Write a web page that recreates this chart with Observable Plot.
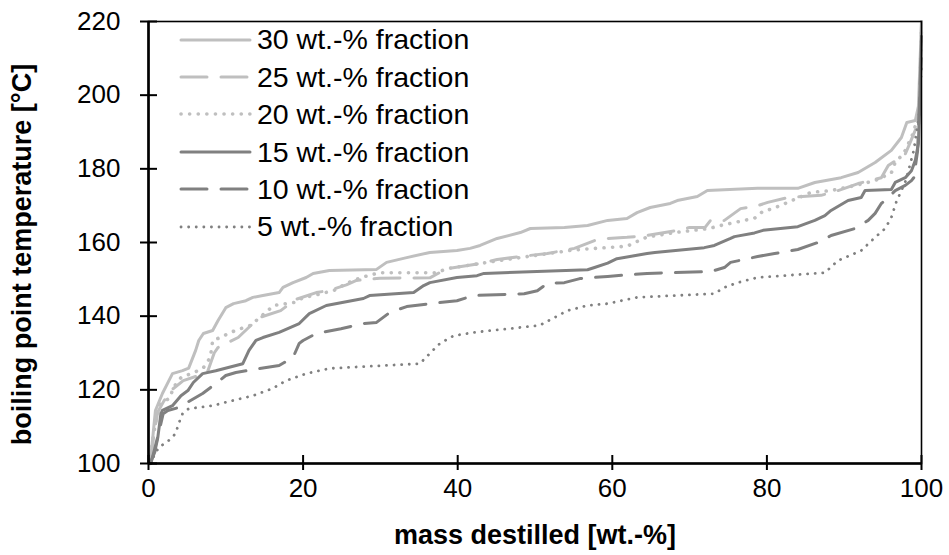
<!DOCTYPE html>
<html><head><meta charset="utf-8">
<script src="https://cdn.jsdelivr.net/npm/d3@7"></script>
<script src="https://cdn.jsdelivr.net/npm/@observablehq/plot@0.6"></script>
<style>
html,body{margin:0;padding:0;background:#fff;}
#wrap{position:relative;width:949px;height:555px;font-family:"Liberation Sans",Arial,sans-serif;}
#legend{position:absolute;left:178px;top:21px;}
.item{display:flex;align-items:center;height:37.4px;}
.item svg{width:74px;height:20px;flex:none;}
.item span{font-size:28.5px;color:#000;margin-left:5px;line-height:1;white-space:nowrap;}
</style></head><body><div id="wrap"></div>
<script>
const xTicks = [0, 20, 40, 60, 80, 100];
const yTicks = [100, 120, 140, 160, 180, 200, 220];
const xTitle = "mass destilled [wt.-%]";
const yTitle = "boiling point temperature [°C]";
const seriesNames = ["30 wt.-% fraction", "25 wt.-% fraction", "20 wt.-% fraction", "15 wt.-% fraction", "10 wt.-% fraction", "5 wt.-% fraction"];

const mass30 = [0.2, 0.5, 0.9, 1.8, 3.1, 4.4, 5.2, 6.1, 6.5, 7.1, 8.3, 9.0, 10.0, 11.0, 12.6, 13.5, 14.8, 16.9, 17.4, 18.7, 20.4, 21.3, 23.4, 29.5, 30.8, 33.4, 36.4, 39.9, 41.6, 42.9, 45.1, 48.1, 49.4, 53.8, 56.8, 59.4, 61.9, 63.2, 64.9, 67.5, 68.4, 71.0, 72.3, 78.8, 84.0, 86.2, 89.6, 91.8, 94.0, 96.1, 97.4, 98.1, 99.2, 99.6, 100];
const temp30 = [100, 106, 114.4, 119.0, 124.4, 125.2, 125.9, 130.7, 133.4, 135.3, 136.1, 138.8, 142.3, 143.4, 144.2, 145.1, 145.6, 146.4, 147.8, 149.1, 150.5, 151.6, 152.4, 152.7, 154.6, 155.9, 157.3, 157.8, 158.4, 159.2, 161.1, 162.7, 163.8, 164.1, 164.6, 166.0, 166.5, 168.1, 169.5, 170.6, 171.4, 172.5, 174.1, 174.7, 174.7, 176.3, 177.6, 179.0, 181.7, 185.0, 188.5, 192.6, 193.1, 197.0, 220];

const mass25 = [0.3, 0.7, 1.2, 2.0, 3.0, 4.5, 7.6, 8.5, 9.0, 11.6, 14.3, 17.1, 19.0, 21.7, 23.4, 25.6, 26.9, 29.9, 36.4, 38.6, 42.9, 45.1, 49.4, 51.6, 55.1, 57.7, 59.4, 61.9, 64.5, 68.4, 70.0, 72.0, 72.7, 74.5, 76.6, 78.8, 80.1, 82.7, 87.0, 89.2, 91.8, 94.8, 95.7, 97.9, 98.5, 99.2, 99.7, 100];
const temp25 = [100, 108, 114, 117, 120, 122.5, 124.7, 130.0, 131.5, 134.2, 139.6, 141.5, 144.5, 146.4, 147.0, 148.5, 149.7, 150.3, 150.4, 152.9, 154.3, 155.4, 156.5, 157.0, 158.4, 160.5, 161.1, 161.4, 161.9, 163.3, 164.1, 164.1, 166.0, 166.0, 169.2, 170.0, 170.9, 172.2, 172.8, 174.1, 176.0, 177.6, 180.9, 184.0, 187.0, 190.5, 195.0, 220];

const mass20 = [0.2, 0.5, 1.0, 1.5, 2.8, 3.2, 4.2, 6.4, 7.1, 8.0, 8.3, 9.3, 10.6, 11.9, 13.2, 16.2, 18.8, 20.1, 21.4, 24.0, 25.6, 27.5, 29.9, 37.3, 38.6, 42.9, 45.1, 49.4, 55.1, 61.9, 64.5, 68.4, 72.5, 74.0, 78.4, 79.5, 80.8, 85.7, 88.3, 91.5, 94.0, 96.1, 96.6, 97.4, 97.9, 99.0, 99.7, 100];
const temp20 = [100, 106, 112, 116, 117.9, 120.6, 123.3, 125.2, 126.0, 128.8, 133.4, 134.2, 135.6, 136.6, 137.5, 142.9, 143.7, 145.1, 145.6, 147.0, 148.9, 150.5, 151.8, 151.8, 152.9, 154.3, 155.0, 156.3, 158.0, 159.0, 161.5, 162.8, 163.8, 164.6, 166.6, 168.5, 169.2, 173.6, 174.1, 175.5, 176.8, 178.9, 181.8, 183.5, 185.0, 190.0, 196.0, 218];

const mass15 = [0.2, 0.8, 1.2, 1.6, 1.8, 3.1, 4.2, 5.1, 5.8, 7.0, 8.7, 12.2, 13.0, 13.9, 14.8, 16.9, 19.5, 20.8, 23.0, 27.8, 28.6, 34.3, 35.6, 36.4, 39.9, 42.5, 43.4, 56.8, 57.7, 59.4, 60.6, 64.5, 65.5, 71.9, 73.2, 75.3, 75.8, 78.4, 79.5, 84.0, 86.2, 87.5, 88.3, 90.5, 92.2, 92.7, 96.1, 96.6, 97.9, 98.7, 99.2, 99.6, 100];
const temp15 = [100, 103, 107, 113.5, 114.4, 115.7, 118.4, 119.8, 122.0, 124.4, 125.2, 127.1, 130.7, 133.4, 134.2, 135.6, 138.0, 140.7, 142.9, 144.8, 145.6, 146.4, 148.3, 149.1, 150.5, 151.0, 151.6, 152.6, 153.2, 154.4, 155.6, 157.0, 157.3, 158.6, 159.2, 161.1, 161.6, 162.6, 163.3, 164.3, 166.0, 167.3, 168.7, 171.4, 172.2, 174.1, 174.4, 176.3, 177.6, 179.5, 182.3, 186.9, 216];

const mass10 = [0.3, 0.8, 1.3, 1.9, 2.5, 3.9, 7.0, 8.7, 10.0, 11.3, 13.5, 16.9, 18.7, 19.5, 20.0, 21.7, 24.9, 27.8, 29.5, 31.2, 33.4, 36.4, 39.9, 42.1, 48.6, 50.3, 51.6, 53.8, 55.8, 59.4, 64.5, 72.7, 74.5, 75.3, 77.5, 78.8, 81.0, 84.0, 86.6, 88.3, 91.4, 93.1, 94.0, 94.8, 95.3, 96.6, 97.9, 98.7, 99.0, 99.5, 100];
const temp10 = [100, 104, 108.1, 113.5, 114.4, 115.2, 119.0, 121.7, 123.9, 124.7, 125.5, 126.6, 128.8, 132.6, 133.4, 135.3, 136.6, 138.0, 138.3, 141.0, 142.6, 143.4, 144.2, 145.6, 146.1, 146.9, 148.9, 149.1, 150.2, 150.8, 151.6, 152.1, 153.2, 154.6, 155.6, 156.2, 157.0, 158.1, 160.0, 161.9, 163.8, 166.0, 167.9, 170.6, 171.4, 174.1, 175.5, 176.8, 177.6, 185.0, 212];

const mass5 = [0.2, 0.6, 1.3, 2.6, 3.5, 3.9, 4.4, 5.2, 8.3, 10.9, 13.5, 16.1, 17.8, 20.4, 23.4, 27.8, 35.1, 36.4, 37.7, 39.5, 42.1, 50.6, 52.5, 54.2, 56.8, 59.4, 63.2, 73.2, 74.5, 76.2, 78.8, 87.5, 89.2, 92.2, 94.0, 95.3, 96.1, 96.8, 97.3, 98.0, 99.0, 99.7, 100];
const temp5 = [100, 101.6, 104.3, 106.2, 108.1, 110.8, 113.5, 114.9, 115.7, 117.1, 118.4, 120.4, 122.5, 124.4, 125.8, 126.3, 127.1, 129.9, 132.6, 134.7, 135.6, 137.5, 139.6, 141.5, 142.9, 143.4, 145.1, 146.1, 147.8, 149.1, 150.5, 151.8, 155.1, 157.8, 161.4, 163.8, 166.8, 171.4, 173.6, 177.0, 185.0, 195.0, 208];

const LIGHT = "#bfbfbf", DARK = "#808080";
const styles = [
  {stroke: LIGHT, strokeWidth: 3, dash: null},
  {stroke: LIGHT, strokeWidth: 3, dash: "26,14"},
  {stroke: LIGHT, strokeWidth: 3.6, dash: "0.1,8.5"},
  {stroke: DARK, strokeWidth: 3, dash: null},
  {stroke: DARK, strokeWidth: 3, dash: "26,14"},
  {stroke: DARK, strokeWidth: 2.8, dash: "0.1,7.5"}
];
const masses = [mass30, mass25, mass20, mass15, mass10, mass5];
const temps = [temp30, temp25, temp20, temp15, temp10, temp5];

const series = seriesNames.map((name, k) => ({
  name, style: styles[k],
  rows: masses[k].map((m, i) => ({mass: m, temp: temps[k][i]}))
}));

const FONT = '"Liberation Sans", Arial, sans-serif';

const chart = Plot.plot({
  width: 949, height: 555,
  marginLeft: 148, marginRight: 28, marginTop: 21, marginBottom: 92,
  x: {domain: [0, 100]},
  y: {domain: [100, 220]},
  style: {fontFamily: FONT, fontSize: "26px", color: "#000", background: "#fff"},
  marks: [
    ...series.map(s => Plot.line(s.rows, {
      x: "mass", y: "temp", stroke: s.style.stroke, strokeWidth: s.style.strokeWidth,
      strokeDasharray: s.style.dash, strokeLinecap: "round", strokeLinejoin: "round"
    })),
    Plot.frame({stroke: "#000", strokeWidth: 1.6}),
    Plot.ruleX([0], {stroke: "#000", strokeWidth: 2.6}),
    Plot.ruleY([100], {stroke: "#000", strokeWidth: 2.6}),
    Plot.axisY({ticks: yTicks, tickSize: 17, dx: 9, tickFormat: () => "", strokeWidth: 2, label: null}),
    Plot.axisY({ticks: yTicks, tickSize: 0, tickPadding: 28, fill: "#000", label: null}),
    Plot.axisX({ticks: xTicks, tickSize: 15, dy: -8, tickFormat: () => "", strokeWidth: 2, label: null}),
    Plot.axisX({ticks: xTicks, tickSize: 0, tickPadding: 15, fill: "#000", label: null}),
    Plot.text([xTitle], {text: d => d, frameAnchor: "bottom", dy: 72, lineAnchor: "middle",
      fontWeight: "bold", fontSize: 27, fill: "#000"}),
    Plot.text([yTitle], {text: d => d, frameAnchor: "left", dx: -126, dy: 12, rotate: -90, lineAnchor: "middle",
      textAnchor: "middle", fontWeight: "bold", fontSize: 27, fill: "#000"})
  ]
});

const wrap = document.getElementById("wrap");
wrap.appendChild(chart);

const legend = document.createElement("div");
legend.id = "legend";
series.forEach(s => {
  const item = document.createElement("div");
  item.className = "item";
  const ns = "http://www.w3.org/2000/svg";
  const sv = document.createElementNS(ns, "svg");
  sv.setAttribute("width", 74); sv.setAttribute("height", 20);
  const ln = document.createElementNS(ns, "line");
  ln.setAttribute("x1", 3); ln.setAttribute("x2", 72);
  ln.setAttribute("y1", 10); ln.setAttribute("y2", 10);
  ln.setAttribute("stroke", s.style.stroke);
  ln.setAttribute("stroke-width", s.style.strokeWidth);
  ln.setAttribute("stroke-linecap", "round");
  if (s.style.dash) ln.setAttribute("stroke-dasharray", s.style.dash);
  sv.appendChild(ln);
  const tx = document.createElement("span");
  tx.textContent = s.name;
  item.appendChild(sv); item.appendChild(tx);
  legend.appendChild(item);
});
wrap.appendChild(legend);
</script></body></html>
